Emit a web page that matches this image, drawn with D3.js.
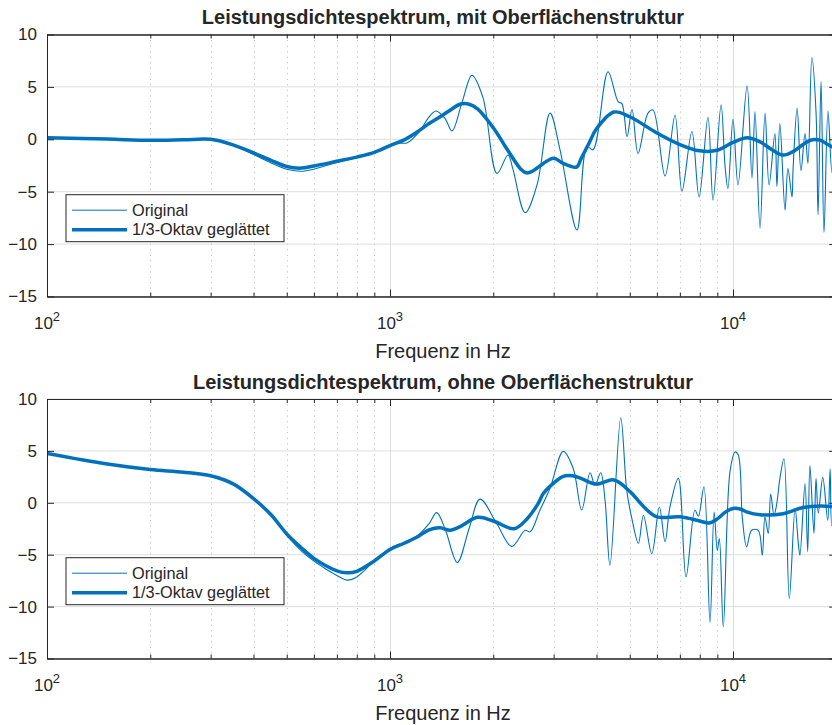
<!DOCTYPE html>
<html><head><meta charset="utf-8">
<script src="https://cdn.jsdelivr.net/npm/d3@7"></script>
<style>
body{margin:0;background:#fff}
svg{display:block}
text{font-family:"Liberation Sans",Arial,Helvetica,sans-serif;fill:#262626}
</style>
</head><body>
<svg id="chart" width="832" height="725"></svg>
<script>
// ---------- data ----------
const panelTitles = ["Leistungsdichtespektrum, mit Oberflächenstruktur","Leistungsdichtespektrum, ohne Oberflächenstruktur"];
const xAxisLabel = "Frequenz in Hz";
const legendLabels = ["Original","1/3-Oktav geglättet"];
const yTickValues = [10,5,0,-5,-10,-15];
const xMajorTicks = [100,1000,10000];
const xMajorExponents = ["2","3","4"];
const xMinorTicks = [200,300,400,500,600,700,800,900,2000,3000,4000,5000,6000,7000,8000,9000,20000];

// upper panel (mit Oberflächenstruktur)
const topSmoothFreq = [100,150,200,250,300,350,400,450,500,550,600,700,800,900,1000,1100,1200,1300,1400,1500,1600,1700,1800,2000,2200,2400,2500,2600,2800,3000,3200,3500,3600,3800,4000,4500,5000,6000,7000,8000,9000,10000,11000,12000,13000,14000,15000,16000,17000,18000,19000,20000];
const topSmoothDb   = [0.15,0.02,-0.1,-0.05,0.0,-0.55,-1.3,-2.0,-2.6,-2.75,-2.55,-2.1,-1.7,-1.25,-0.6,-0.05,0.7,1.5,2.15,2.8,3.35,3.35,2.9,1.1,-1.0,-2.8,-3.2,-3.05,-2.3,-1.8,-2.3,-2.65,-1.9,-0.4,1.0,2.6,2.15,0.6,-0.5,-1.1,-1.05,-0.3,0.15,-0.25,-1.0,-1.5,-1.15,-0.5,-0.05,-0.1,-0.55,-0.9];
const topOrigFreq = [100,150,200,250,300,350,400,450,500,550,600,700,800,900,1000,1060,1120,1223,1290,1362,1446,1517,1621,1734,1866,2051,2208,2284,2477,2683,2928,3131,3509,3753,3908,4321,4624,4744,4910,5076,5286,5652,5846,6338,6777,7099,7590,7963,8454,8746,9230,9482,9666,10000,10342,10990,11360,11590,11990,12400,12740,13250,13430,13700,14180,14460,14860,14960,15380,15780,16220,16540,16980,17460,17700,18060,18420,18920,19440,20000];
const topOrigDb   = [0.15,0.0,-0.1,-0.05,0.0,-0.6,-1.45,-2.25,-2.85,-3.05,-2.85,-2.2,-1.75,-1.3,-0.65,-0.35,-0.35,0.8,2.0,2.7,2.0,0.8,3.5,6.1,4.0,-3.25,-1.5,-2.9,-7.0,-4.35,2.5,-1.0,-8.65,-0.7,-1.0,6.45,3.6,3.4,0.25,2.85,-1.35,2.5,2.8,-3.5,2.3,-4.95,0.75,-5.5,2.1,-5.8,3.3,-2.6,-4.7,1.9,-4.35,5.1,-3.7,2.65,-8.5,2.5,-4.35,0.55,-4.5,1.5,-6.75,-2.8,-5.5,-3.0,2.95,-3.0,0.55,-2.3,7.8,2.6,-7.2,5.5,-8.9,2.7,-3.2,0.5];

// lower panel (ohne Oberflächenstruktur)
const botSmoothFreq = [100,150,200,250,300,350,400,450,500,550,600,700,750,800,900,1000,1100,1200,1300,1400,1500,1600,1800,2000,2300,2500,2700,2800,3000,3200,3400,3600,4000,4500,5000,5500,6000,7000,8000,8500,9000,9500,10000,10500,11000,12000,14000,16000,18000,20000];
const botSmoothDb   = [4.75,3.73,3.2,2.95,2.6,1.8,0.4,-1.15,-3.0,-4.3,-5.35,-6.55,-6.75,-6.6,-5.6,-4.5,-3.9,-3.3,-2.6,-2.4,-2.65,-2.3,-1.4,-1.75,-2.5,-1.6,-0.1,0.9,1.9,2.55,2.6,2.35,1.8,2.2,1.1,-0.4,-1.35,-1.35,-1.75,-1.95,-1.55,-0.9,-0.55,-0.6,-0.9,-1.15,-1.05,-0.45,-0.3,-0.4];
const botOrigFreq = [100,150,200,250,300,350,400,450,500,550,600,700,750,800,900,1000,1100,1200,1300,1368,1450,1571,1700,1830,2047,2264,2477,2561,2737,2928,3200,3421,3622,3830,3960,4114,4236,4378,4707,4900,5070,5300,5479,5797,6100,6338,6550,6928,7295,7745,7925,8227,8570,8810,9000,9125,9370,9800,10140,10360,10650,10960,11330,11850,12170,12390,12670,12880,13170,13400,13700,14080,14590,15170,15500,15670,16220,16510,16760,17220,17460,17730,18270,18890,19190,19410,20000];
const botOrigDb   = [4.75,3.73,3.2,2.95,2.6,1.85,0.4,-1.2,-3.1,-4.6,-5.6,-7.0,-7.45,-7.15,-5.6,-4.4,-3.8,-3.2,-2.0,-0.95,-2.6,-5.75,-2.5,0.35,-2.0,-4.2,-2.65,-2.8,-0.7,1.4,4.95,3.3,-0.7,2.9,1.7,2.9,0.25,-6.0,8.2,1.2,-1.5,-3.9,-1.2,-4.9,-0.4,-3.75,-0.4,2.35,-7.15,-0.7,-1.3,1.55,-11.55,-0.9,-4.6,-3.45,-11.95,3.0,4.9,4.6,-1.5,-4.25,-2.65,-2.65,-5.05,-1.35,-2.95,0.85,-1.2,-0.2,2.35,4.25,-9.25,-0.55,-3.9,-5.05,1.85,-4.7,3.6,-2.95,2.35,-1.0,2.45,-1.7,3.25,-2.2,0.5];

// ---------- drawing ----------
const lineColor = "#0072BD";
const svg = d3.select("#chart");
const panels = [
  {top:34.5, bottom:296.5, title:panelTitles[0], sf:topSmoothFreq, sd:topSmoothDb, of:topOrigFreq, od:topOrigDb},
  {top:399, bottom:658.5, title:panelTitles[1], sf:botSmoothFreq, sd:botSmoothDb, of:botOrigFreq, od:botOrigDb}
];
const left = 47, right = 47 + 343*Math.log10(200);
const centerX = 443;

panels.forEach((p, i) => {
  const x = d3.scaleLog().domain([100,20000]).range([left, right]);
  const y = d3.scaleLinear().domain([-15,10]).range([p.bottom, p.top]);
  const g = svg.append("g");
  const clipId = "clip" + i;
  svg.append("clipPath").attr("id", clipId).append("rect")
    .attr("x", left).attr("y", p.top).attr("width", right-left).attr("height", p.bottom-p.top);

  // grid
  const grid = g.append("g");
  grid.selectAll(".hg").data(yTickValues).join("line")
    .attr("x1", left).attr("x2", right).attr("y1", d=>y(d)).attr("y2", d=>y(d))
    .attr("stroke", "#dedede").attr("stroke-width", 1);
  grid.selectAll(".mg").data(xMinorTicks).join("line")
    .attr("x1", d=>Math.round(x(d))+0.5).attr("x2", d=>Math.round(x(d))+0.5).attr("y1", p.top).attr("y2", p.bottom)
    .attr("stroke", "#cfcfcf").attr("stroke-width", 1).attr("stroke-dasharray", "1.5,4");
  grid.selectAll(".vg").data(xMajorTicks).join("line")
    .attr("x1", d=>Math.round(x(d))+0.5).attr("x2", d=>Math.round(x(d))+0.5).attr("y1", p.top).attr("y2", p.bottom)
    .attr("stroke", "#dedede").attr("stroke-width", 1);

  // lines
  const toPts = (fs, ds) => fs.map((f, k) => [f, ds[k]]);
  const line = d3.line().x(d=>x(d[0])).y(d=>y(d[1])).curve(d3.curveCatmullRom.alpha(0.5));
  const lg = g.append("g").attr("clip-path", `url(#${clipId})`);
  lg.append("path").attr("d", line(toPts(p.of, p.od)))
    .attr("fill","none").attr("stroke", lineColor).attr("stroke-width", 1.1).attr("stroke-linejoin","round");
  lg.append("path").attr("d", line(toPts(p.sf, p.sd)))
    .attr("fill","none").attr("stroke", lineColor).attr("stroke-width", 3.5).attr("stroke-linejoin","round").attr("stroke-linecap","round");

  // axes (box with inward ticks)
  const axL = d3.axisLeft(y).tickValues(yTickValues).tickSizeInner(-7).tickSizeOuter(0).tickPadding(10).tickFormat(d3.format("d"));
  const axR = d3.axisRight(y).tickValues(yTickValues).tickSizeInner(-7).tickSizeOuter(0).tickFormat("");
  const axB = d3.axisBottom(x).tickValues(xMajorTicks).tickSizeInner(-7).tickSizeOuter(0).tickFormat("");
  const axBm = d3.axisBottom(x).tickValues(xMinorTicks).tickSizeInner(-4).tickSizeOuter(0).tickFormat("");
  const axT = d3.axisTop(x).tickValues(xMajorTicks).tickSizeInner(-7).tickSizeOuter(0).tickFormat("");
  const axTm = d3.axisTop(x).tickValues(xMinorTicks).tickSizeInner(-4).tickSizeOuter(0).tickFormat("");
  const style = sel => { sel.selectAll("path,line").attr("stroke","#262626"); sel.select(".domain").attr("stroke-width",1); };
  const gl = g.append("g").attr("transform",`translate(${left},0)`).call(axL).call(style);
  gl.selectAll("text").attr("font-size", 17).attr("fill","#262626").style("font-family",'"Liberation Sans",Arial,sans-serif');
  g.append("g").attr("transform",`translate(${right},0)`).call(axR).call(style);
  g.append("g").attr("transform",`translate(0,${p.bottom})`).call(axB).call(style);
  g.append("g").attr("transform",`translate(0,${p.bottom})`).call(axBm).call(style);
  g.append("g").attr("transform",`translate(0,${p.top})`).call(axT).call(style);
  g.append("g").attr("transform",`translate(0,${p.top})`).call(axTm).call(style);

  // x tick labels 10^n
  xMajorTicks.forEach((t, k) => {
    const tx = g.append("text").attr("x", x(t)).attr("y", p.bottom + 32)
      .attr("text-anchor","middle").attr("font-size", 17);
    tx.append("tspan").text("10");
    tx.append("tspan").attr("dy", -8).attr("font-size", 13).text(xMajorExponents[k]);
  });

  // axis label
  g.append("text").attr("x", centerX).attr("y", p.bottom + 61)
    .attr("text-anchor","middle").attr("font-size", 20).text(xAxisLabel);

  // title
  g.append("text").attr("x", centerX).attr("y", p.top - 10.5)
    .attr("text-anchor","middle").attr("font-size", 20).attr("font-weight","bold").attr("fill","#000").text(p.title);

  // legend
  const lx = 66, ly = y(-5) + 3;
  const leg = g.append("g");
  leg.append("rect").attr("x", lx).attr("y", ly).attr("width", 218).attr("height", 47)
    .attr("fill","#fff").attr("stroke","#262626").attr("stroke-width",1);
  [[1, legendLabels[0]], [3.5, legendLabels[1]]].forEach(([w, lab], k) => {
    const cy = ly + 15.5 + k*19.5;
    leg.append("line").attr("x1", lx+6).attr("x2", lx+61).attr("y1", cy).attr("y2", cy)
      .attr("stroke", lineColor).attr("stroke-width", w);
    leg.append("text").attr("x", lx+66).attr("y", cy).attr("dy","0.35em").attr("font-size",16.3).text(lab);
  });
});
</script>
</body></html>
